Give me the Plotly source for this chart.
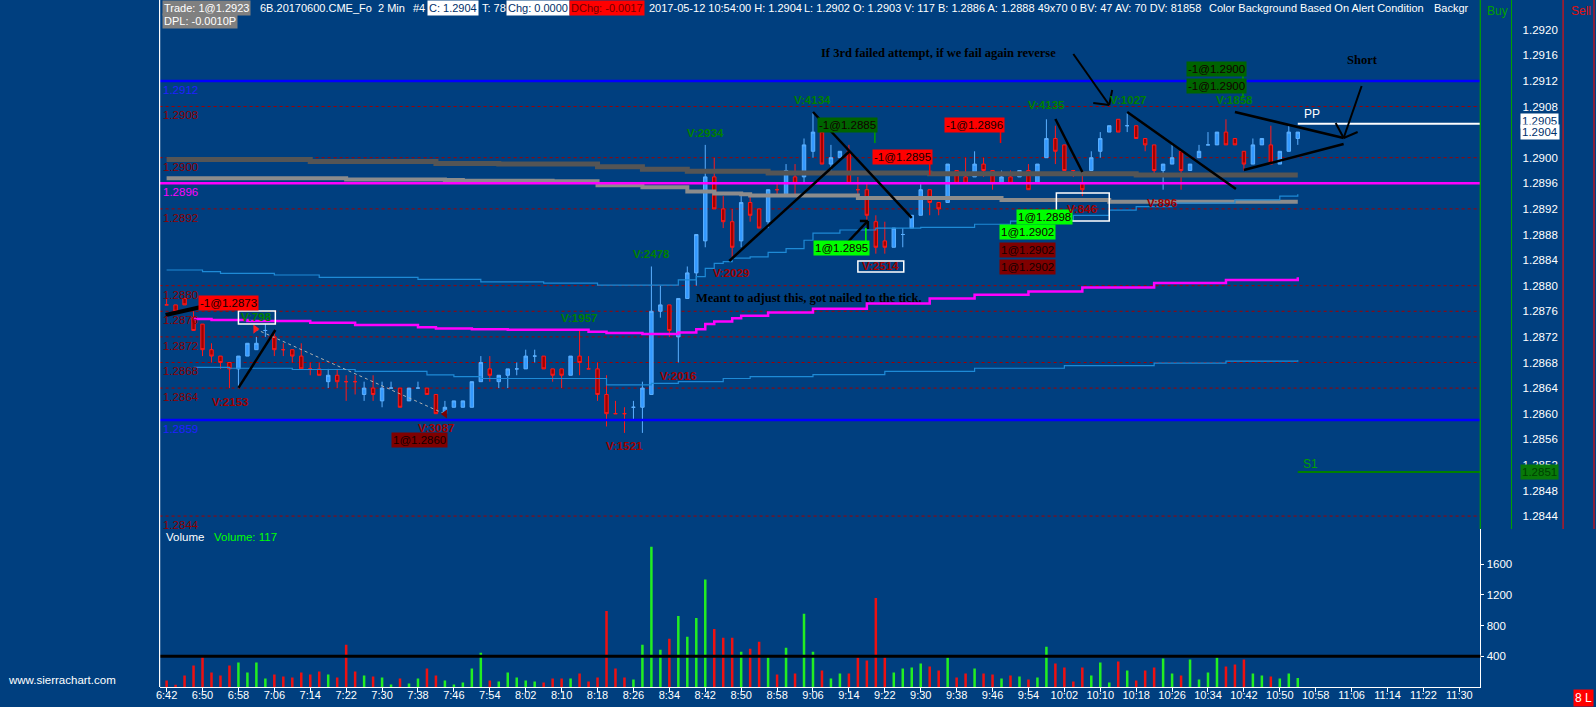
import plotly.graph_objects as go

# ---- 2 minute bars, 6B (British pound) June contract, 6:42 .. 10:54 ----
opens = [1.2877, 1.2877, 1.2878, 1.2875, 1.2874, 1.2870, 1.2869, 1.2868, 1.2867, 1.2869,
         1.2870, 1.2873, 1.2872, 1.2870, 1.2870, 1.2869, 1.2867, 1.2867, 1.2865, 1.2866,
         1.2865, 1.2865, 1.2863, 1.2864, 1.2862, 1.2864, 1.2864, 1.2862, 1.2864, 1.2864,
         1.2863, 1.2860, 1.2861, 1.2861, 1.2861, 1.2865, 1.2867, 1.2865, 1.2866, 1.2867,
         1.2867, 1.2869, 1.2869, 1.2867, 1.2867, 1.2866, 1.2869, 1.2867, 1.2867, 1.2863,
         1.2860, 1.2860, 1.2861, 1.2861, 1.2863, 1.2876, 1.2877, 1.2872, 1.2878, 1.2882,
         1.2887, 1.2897, 1.2892, 1.2890, 1.2887, 1.2893, 1.2892, 1.2890, 1.2895, 1.2894,
         1.2897, 1.2897, 1.2901, 1.2904, 1.2899, 1.2900, 1.2901, 1.2895, 1.2895, 1.2890,
         1.2887, 1.2886, 1.2888, 1.2889, 1.2891, 1.2895, 1.2893, 1.2893, 1.2898, 1.2897,
         1.2897, 1.2899, 1.2898, 1.2896, 1.2897, 1.2897, 1.2898, 1.2896, 1.2900, 1.2903,
         1.2902, 1.2898, 1.2896, 1.2898, 1.2901, 1.2904, 1.2906, 1.2905, 1.2905, 1.2903,
         1.2902, 1.2898, 1.2899, 1.2901, 1.2898, 1.2900, 1.2902, 1.2902, 1.2904, 1.2903,
         1.2901, 1.2899, 1.2902, 1.2902, 1.2899, 1.2901, 1.2903]
highs = [1.2878, 1.2877, 1.2878, 1.2876, 1.2874, 1.2871, 1.2869, 1.2868, 1.2869, 1.2871,
         1.2872, 1.2874, 1.2873, 1.2871, 1.2870, 1.2871, 1.2868, 1.2868, 1.2867, 1.2867,
         1.2866, 1.2866, 1.2865, 1.2866, 1.2865, 1.2865, 1.2864, 1.2864, 1.2865, 1.2864,
         1.2863, 1.2862, 1.2862, 1.2862, 1.2865, 1.2869, 1.2869, 1.2866, 1.2867, 1.2868,
         1.2870, 1.2870, 1.2869, 1.2867, 1.2867, 1.2869, 1.2873, 1.2869, 1.2868, 1.2866,
         1.2862, 1.2861, 1.2862, 1.2865, 1.2883, 1.2880, 1.2877, 1.2878, 1.2883, 1.2888,
         1.2902, 1.2900, 1.2894, 1.2892, 1.2894, 1.2894, 1.2892, 1.2895, 1.2896, 1.2899,
         1.2899, 1.2903, 1.2907, 1.2905, 1.2902, 1.2901, 1.2902, 1.2897, 1.2896, 1.2891,
         1.2890, 1.2889, 1.2889, 1.2891, 1.2896, 1.2895, 1.2893, 1.2899, 1.2898, 1.2900,
         1.2901, 1.2900, 1.2898, 1.2898, 1.2898, 1.2898, 1.2899, 1.2899, 1.2906, 1.2905,
         1.2902, 1.2898, 1.2898, 1.2901, 1.2904, 1.2905, 1.2906, 1.2907, 1.2905, 1.2903,
         1.2902, 1.2899, 1.2902, 1.2901, 1.2899, 1.2902, 1.2904, 1.2904, 1.2906, 1.2903,
         1.2901, 1.2903, 1.2903, 1.2905, 1.2901, 1.2905, 1.2904]
lows = [1.2877, 1.2876, 1.2877, 1.2873, 1.2869, 1.2868, 1.2867, 1.2864, 1.2864, 1.2869,
        1.2870, 1.2872, 1.2869, 1.2869, 1.2868, 1.2867, 1.2866, 1.2866, 1.2864, 1.2864,
        1.2862, 1.2863, 1.2862, 1.2862, 1.2861, 1.2864, 1.2861, 1.2862, 1.2864, 1.2863,
        1.2860, 1.2860, 1.2861, 1.2861, 1.2861, 1.2865, 1.2865, 1.2864, 1.2864, 1.2866,
        1.2867, 1.2868, 1.2867, 1.2865, 1.2864, 1.2866, 1.2866, 1.2867, 1.2862, 1.2858,
        1.2860, 1.2857, 1.2859, 1.2857, 1.2863, 1.2875, 1.2872, 1.2868, 1.2878, 1.2880,
        1.2886, 1.2892, 1.2889, 1.2884, 1.2886, 1.2890, 1.2889, 1.2889, 1.2894, 1.2894,
        1.2894, 1.2896, 1.2900, 1.2899, 1.2898, 1.2900, 1.2896, 1.2894, 1.2890, 1.2885,
        1.2885, 1.2886, 1.2886, 1.2889, 1.2891, 1.2891, 1.2891, 1.2893, 1.2896, 1.2896,
        1.2897, 1.2897, 1.2895, 1.2896, 1.2896, 1.2897, 1.2895, 1.2896, 1.2900, 1.2899,
        1.2898, 1.2897, 1.2894, 1.2898, 1.2900, 1.2904, 1.2904, 1.2904, 1.2903, 1.2901,
        1.2897, 1.2895, 1.2899, 1.2895, 1.2898, 1.2900, 1.2902, 1.2902, 1.2902, 1.2902,
        1.2898, 1.2899, 1.2902, 1.2899, 1.2899, 1.2901, 1.2902]
closes = [1.2877, 1.2876, 1.2877, 1.2873, 1.2870, 1.2869, 1.2868, 1.2867, 1.2869, 1.2871,
          1.2871, 1.2873, 1.2870, 1.2870, 1.2869, 1.2867, 1.2867, 1.2866, 1.2866, 1.2865,
          1.2865, 1.2865, 1.2864, 1.2863, 1.2864, 1.2864, 1.2861, 1.2864, 1.2864, 1.2863,
          1.2860, 1.2861, 1.2862, 1.2862, 1.2865, 1.2868, 1.2866, 1.2866, 1.2867, 1.2867,
          1.2869, 1.2869, 1.2867, 1.2866, 1.2866, 1.2869, 1.2868, 1.2867, 1.2863, 1.2860,
          1.2860, 1.2860, 1.2861, 1.2864, 1.2876, 1.2877, 1.2873, 1.2878, 1.2882, 1.2888,
          1.2897, 1.2892, 1.2890, 1.2886, 1.2893, 1.2891, 1.2889, 1.2895, 1.2895, 1.2898,
          1.2896, 1.2902, 1.2904, 1.2899, 1.2900, 1.2901, 1.2896, 1.2895, 1.2891, 1.2886,
          1.2886, 1.2889, 1.2888, 1.2891, 1.2895, 1.2893, 1.2892, 1.2899, 1.2896, 1.2896,
          1.2899, 1.2898, 1.2896, 1.2897, 1.2896, 1.2898, 1.2895, 1.2899, 1.2903, 1.2901,
          1.2898, 1.2898, 1.2895, 1.2900, 1.2903, 1.2905, 1.2904, 1.2905, 1.2903, 1.2902,
          1.2898, 1.2899, 1.2900, 1.2898, 1.2899, 1.2901, 1.2902, 1.2904, 1.2902, 1.2902,
          1.2899, 1.2902, 1.2903, 1.2899, 1.2901, 1.2904, 1.2904]
# bar colour as drawn on the chart (u = up / blue, d = down / red)
bar_dir = list("dddddddduu" "uuddddddud" "dduduuduud" "duuuuuduuu" "uudddudddd"
               "dduuuuduuu" "uddduddudu" "duuduudddd" "duuuuddudd" "uddududuud"
               "ddduuududd" "duuduuuudd" "duuduuu")
volumes = [86, 30, 150, 280, 417, 190, 150, 280, 318, 190,
           318, 112, 163, 138, 125, 190, 163, 202, 163, 125,
           550, 202, 150, 138, 125, 34, 112, 47, 112, 241,
           150, 86, 34, 60, 241, 447, 86, 73, 190, 125,
           86, 73, 60, 112, 112, 112, 176, 73, 125, 989,
           241, 125, 99, 550, 1828, 486, 628, 925, 654, 899,
           1402, 757, 641, 641, 460, 499, 589, 383, 163, 512,
           176, 955, 460, 215, 112, 176, 176, 383, 344, 1161,
           383, 190, 241, 254, 305, 267, 215, 383, 125, 176,
           241, 176, 163, 112, 150, 138, 99, 125, 525, 305,
           254, 73, 254, 150, 318, 60, 331, 215, 86, 215,
           254, 370, 176, 150, 357, 99, 190, 383, 267, 292,
           357, 176, 150, 138, 112, 176, 117]
bars = list(range(len(closes)))

time_labels = ["6:42", "6:50", "6:58", "7:06", "7:14", "7:22", "7:30", "7:38", "7:46", "7:54",
               "8:02", "8:10", "8:18", "8:26", "8:34", "8:42", "8:50", "8:58", "9:06", "9:14",
               "9:22", "9:30", "9:38", "9:46", "9:54", "10:02", "10:10", "10:18", "10:26", "10:34",
               "10:42", "10:50", "10:58", "11:06", "11:14", "11:22", "11:30"]
time_ticks = [4 * i for i in range(len(time_labels))]
price_ticks = [1.2844, 1.2848, 1.2852, 1.2856, 1.2860, 1.2864, 1.2868, 1.2872, 1.2876, 1.2880,
               1.2884, 1.2888, 1.2892, 1.2896, 1.2900, 1.2904, 1.2908, 1.2912, 1.2916, 1.2920]
volume_ticks = [400, 800, 1200, 1600]

# ---- study lines (step values, bar index -> price) ----
avg_dark_x = [0, 16, 30, 37, 48, 53, 58, 67, 85, 108, 126]
avg_dark_y = [1.28997, 1.28994, 1.28991, 1.28990, 1.28986, 1.28982, 1.28979, 1.28976,
              1.28975, 1.28973, 1.28973]
avg_light_x = [0, 20, 31, 33, 43, 48, 53, 58, 61, 64, 65, 77, 93, 105, 126]
avg_light_y = [1.28968, 1.28966, 1.28965, 1.28964, 1.28963, 1.28957, 1.28954, 1.28947,
               1.28944, 1.28943, 1.28941, 1.28937, 1.28934, 1.28931, 1.28931]
band_up_x = [0, 4, 6, 12, 17, 28, 35, 42, 48, 57, 59, 60, 61, 62, 63, 65, 67, 69, 71, 72,
             75, 79, 84, 90, 94, 97, 101, 105, 108, 112, 119, 124, 126]
band_up_y = [1.288245, 1.28822, 1.288193, 1.288167, 1.28813, 1.288099, 1.28806, 1.28804,
             1.28801, 1.28809, 1.28814, 1.28827, 1.28835, 1.288375, 1.28843, 1.28845,
             1.28852, 1.28858, 1.28871, 1.28882, 1.28887, 1.28890, 1.28891, 1.28896,
             1.28901, 1.28903, 1.28910, 1.28918, 1.289235, 1.28929, 1.28934, 1.28940, 1.28943]
band_lo_x = [3, 7, 14, 21, 29, 32, 35, 49, 54, 57, 62, 65, 72, 80, 90, 100, 110, 118, 126]
band_lo_y = [1.286724, 1.28671, 1.28669, 1.28666, 1.286605, 1.28658, 1.28655, 1.28645,
             1.286475, 1.28650, 1.28655, 1.28658, 1.28661, 1.28666, 1.28671, 1.28675,
             1.28679, 1.28682, 1.286835]
vwap_x = [3, 5, 9, 16, 21, 28, 30, 34, 38, 47, 49, 53, 57, 59, 60, 61, 63, 64, 67, 72,
          78, 85, 90, 96, 102, 110, 118, 126]
vwap_y = [1.28748, 1.287464, 1.28745, 1.28742, 1.287385, 1.28735, 1.28733, 1.28732,
          1.28731, 1.28728, 1.28726, 1.287245, 1.28727, 1.28732, 1.28740, 1.28744,
          1.28749, 1.28753, 1.28758, 1.28764, 1.28772, 1.28780, 1.28786, 1.28791,
          1.28797, 1.28804, 1.28809, 1.28813]

dotted_levels = [1.2908, 1.2900, 1.2892, 1.2880, 1.2876, 1.2872, 1.2868, 1.2864, 1.2844]
blue_levels = [1.2912, 1.2859]
magenta_level = 1.2896
pp_level = 1.29053
s1_level = 1.28509

W, H = 1596, 707
BG = '#003f7f'
FONT = 'Liberation Sans'
X_RANGE = [-0.78, 146.33]


def px(x):
    return x / W


def py(y):
    return 1 - y / H


fig = go.Figure()

# candles, drawn as two traces so doji colours follow the chart
for d, fill, edge in [('u', '#3399ff', '#5cb0ff'), ('d', '#a00000', '#ff1a1a')]:
    idx = [i for i in bars if bar_dir[i] == d]
    fig.add_trace(go.Candlestick(
        x=idx, open=[opens[i] for i in idx], high=[highs[i] for i in idx],
        low=[lows[i] for i in idx], close=[closes[i] for i in idx],
        increasing=dict(fillcolor=fill, line=dict(color=edge, width=1)),
        decreasing=dict(fillcolor=fill, line=dict(color=edge, width=1)),
        whiskerwidth=0, xaxis='x', yaxis='y', hoverinfo='skip'))

studies = [(avg_dark_x, avg_dark_y, '#555555', 5), (avg_light_x, avg_light_y, '#8c8c8c', 4),
           (band_up_x, band_up_y, '#1e8ad6', 1.2), (band_lo_x, band_lo_y, '#1e8ad6', 1.2),
           (vwap_x, vwap_y, '#ff00ff', 2.5)]
for sx, sy, col, w in studies:
    fig.add_trace(go.Scatter(x=sx, y=sy, mode='lines', line=dict(color=col, width=w, shape='hv'),
                             xaxis='x', yaxis='y', hoverinfo='skip'))

# short trade from 1.2873 to 1.2860 exit
fig.add_trace(go.Scatter(x=[9.89, 31.0], y=[1.287323, 1.285995], mode='lines+markers',
                         line=dict(color='#b0b0b0', width=1, dash='dot'),
                         marker=dict(symbol=['triangle-right', 'triangle-left'], size=8,
                                     color=['#ff2020', '#800000']),
                         xaxis='x', yaxis='y', hoverinfo='skip'))

fig.add_trace(go.Bar(x=bars, y=volumes, width=0.28,
                     marker=dict(color=['#22ee22' if d == 'u' else '#ee1111' for d in bar_dir],
                                 line=dict(width=0)),
                     xaxis='x2', yaxis='y2', hoverinfo='skip'))

shapes = []
for p in dotted_levels:
    shapes.append(dict(type='line', xref='x domain', yref='y', x0=0, x1=1, y0=p, y1=p,
                       line=dict(color='#a00000', width=1, dash='dot'), layer='below'))
for p in blue_levels:
    shapes.append(dict(type='line', xref='x domain', yref='y', x0=0, x1=1, y0=p, y1=p,
                       line=dict(color='#0000ff', width=2.5)))
shapes.append(dict(type='line', xref='x domain', yref='y', x0=0, x1=1, y0=magenta_level,
                   y1=magenta_level, line=dict(color='#ff00ff', width=2.5)))
shapes.append(dict(type='line', xref='x', yref='y', x0=126, x1=X_RANGE[1], y0=pp_level,
                   y1=pp_level, line=dict(color='white', width=2)))
shapes.append(dict(type='line', xref='x', yref='y', x0=126, x1=X_RANGE[1], y0=s1_level,
                   y1=s1_level, line=dict(color='#008000', width=2)))
shapes.append(dict(type='line', xref='x2 domain', yref='y2', x0=0, x1=1, y0=400, y1=400,
                   line=dict(color='black', width=3)))

# hand drawn lines on the chart (bar index, price)
drawings = [((-0.11, 1.287542), (4.33, 1.287683), 4),
            ((8.0, 1.286402), (12.11, 1.287308), 2.5),
            ((62.67, 1.288386), (76.11, 1.290105), 2.5),
            ((72.0, 1.290714), (83.0, 1.289058), 2.5),
            ((75.78, 1.288667), (78.11, 1.289011), 2.5),
            ((78.11, 1.289011), (77.22, 1.289011), 2.5),
            ((78.11, 1.289011), (78.11, 1.288886), 2.5),
            ((99.0, 1.290605), (102.0, 1.289777), 2.5),
            ((101.0, 1.291620), (105.0, 1.290823), 2),
            ((105.0, 1.290823), (103.22, 1.290855), 2),
            ((105.0, 1.290823), (105.33, 1.291058), 2),
            ((107.0, 1.290714), (119.11, 1.289511), 2.5),
            ((119.0, 1.290714), (131.11, 1.290308), 2.5),
            ((120.0, 1.289808), (131.11, 1.290214), 2.5),
            ((133.11, 1.291120), (131.11, 1.290308), 2),
            ((131.11, 1.290308), (130.22, 1.290542), 2),
            ((131.11, 1.290308), (132.67, 1.290402), 2)]
for (x0, y0), (x1, y1), w in drawings:
    shapes.append(dict(type='line', xref='x', yref='y', x0=x0, y0=y0, x1=x1, y1=y1,
                       line=dict(color='black', width=w)))

# order tails
tails = [(78.89, 1.290417, 1.290230, '#00a000'), (85.0, 1.289917, 1.289730, '#ff0000'),
         (92.89, 1.290417, 1.290230, '#ff0000'), (77.89, 1.288902, 1.288683, '#00ff00'),
         (119.89, 1.291292, 1.290933, '#00a000')]
for tx, t0, t1, col in tails:
    shapes.append(dict(type='line', xref='x', yref='y', x0=tx, x1=tx, y0=t0, y1=t1,
                       line=dict(color=col, width=1.5)))

# white boxes round swing labels
for x0, x1, y0, y1 in [(8.0, 12.11, 1.287402, 1.287605), (77.0, 82.11, 1.288214, 1.288386),
                       (99.11, 105.0, 1.289011, 1.289448)]:
    shapes.append(dict(type='rect', xref='x', yref='y', x0=x0, x1=x1, y0=y0, y1=y1,
                       line=dict(color='white', width=1.5)))

# frame lines
for x, y0, y1, col in [(156, 0, 687, 'white'), (1480, 0, 529, '#00a000'),
                       (1563, 0, 529, '#e01010'), (1594, 0, 529, '#e01010')]:
    shapes.append(dict(type='line', xref='paper', yref='paper', x0=px(x), x1=px(x),
                       y0=py(y0), y1=py(y1), line=dict(color=col, width=1.2)))

ann = []


def text(t, x, y, color='white', size=11.5, xref='x', yref='y', xanchor='center',
         bg=None, bold=False, family=FONT, yanchor='middle', yshift=0):
    a = dict(text='<b>%s</b>' % t if bold else t, x=x, y=y, xref=xref, yref=yref,
             xanchor=xanchor, yanchor=yanchor, showarrow=False, yshift=yshift,
             font=dict(color=color, size=size, family=family), borderpad=1)
    if bg:
        a['bgcolor'] = bg
    ann.append(a)


# header line
header = [("Trade: 1@1.2923", 158, '#808080', 'white'),
          ("6B.20170600.CME_Fo&nbsp;&nbsp;2 Min", 255, None, 'white'),
          ("#4", 408, None, 'white'),
          ("C: 1.2904", 424, 'white', '#00306a'),
          ("T: 78", 477, None, 'white'),
          ("Chg: 0.0000", 503, 'white', '#00306a'),
          ("DChg: -0.0017", 566, '#ff0000', '#700000'),
          ("2017-05-12 10:54:00 H: 1.2904", 645, None, 'white'),
          ("L: 1.2902 O: 1.2903 V: 117 B: 1.2886 A: 1.2888 49x70 0 BV: 47 AV: 70 DV: 81858",
           800, None, 'white'),
          ("Color Background Based On Alert Condition", 1206, None, 'white'),
          ("Backgr", 1432, None, 'white')]
for t, x, bg, col in header:
    text(t, px(x), py(8), color=col, xref='paper', yref='paper', xanchor='left', bg=bg, size=11)
text("DPL: -0.0010P", px(158), py(21), xref='paper', yref='paper', xanchor='left',
     bg='#808080', size=11)

# level labels at the left edge
level_labels = [(1.2912, '#2020ff'), (1.2908, '#8b0000'), (1.2900, '#8b0000'),
                (1.2896, '#ff00ff'), (1.2892, '#8b0000'), (1.2880, '#8b0000'),
                (1.2876, '#8b0000'), (1.2872, '#8b0000'), (1.2868, '#8b0000'),
                (1.2864, '#8b0000'), (1.2859, '#2020ff'), (1.2844, '#8b0000')]
for p, col in level_labels:
    text('%.4f' % p, px(157), p, color=col, xref='paper', xanchor='left', yanchor='top',
         size=11.5, yshift=-1)

# order fills
box_style = {'sell': '#ff0000', 'buy': '#00ff00', 'fill': '#006400', 'exit': '#800000'}
trade_labels = [('-1@1.2873', 6.94, 1.287737, 'sell'), ('1@1.2860', 28.17, 1.285581, 'exit'),
                ('-1@1.2885', 75.89, 1.290511, 'fill'), ('-1@1.2895', 81.94, 1.290011, 'sell'),
                ('-1@1.2896', 90.0, 1.290511, 'sell'), ('1@1.2895', 75.17, 1.288589, 'buy'),
                ('1@1.2898', 97.83, 1.289081, 'buy'), ('1@1.2902', 95.89, 1.288839, 'buy'),
                ('1@1.2902', 95.89, 1.288558, 'exit'), ('1@1.2902', 95.89, 1.288285, 'exit'),
                ('-1@1.2900', 116.9, 1.291386, 'fill'), ('-1@1.2900', 116.9, 1.291113, 'fill')]
for t, x, y, k in trade_labels:
    text(t, x, y, color='#120000', bg=box_style[k], size=11.5)

# swing volume labels
swing_labels = [('V:798', 10.06, 1.287503, 'hi'), ('V:2153', 7.06, 1.286183, 'lo'),
                ('V:3087', 30.06, 1.285777, 'lo'), ('V:1957', 45.94, 1.287495, 'hi'),
                ('V:2478', 54.0, 1.288495, 'hi'), ('V:1521', 51.0, 1.285495, 'lo'),
                ('V:2016', 56.94, 1.286589, 'lo'), ('V:2934', 60.06, 1.290386, 'hi'),
                ('V:2029', 62.89, 1.288198, 'lo'), ('V:4134', 72.0, 1.290902, 'hi'),
                ('V:2514', 79.56, 1.288300, 'lo'), ('V:846', 102.0, 1.289198, 'lo'),
                ('V:896', 110.9, 1.289292, 'lo'), ('V:4135', 98.0, 1.290823, 'hi'),
                ('V:1027', 107.1, 1.290902, 'hi'), ('V:1858', 119.0, 1.290902, 'hi')]
for t, x, y, k in swing_labels:
    text(t, x, y, color='#008000' if k == 'hi' else '#a00000', bold=True, size=11.5)

text("Meant to adjust this, got nailed to the tick.", 58.78, 1.287808, color='black',
     xanchor='left', bold=True, family='Liberation Serif', size=12.5)
text("If 3rd failed attempt, if we fail again reverse", 72.67, 1.291636, color='black',
     xanchor='left', bold=True, family='Liberation Serif', size=12.5)
text("Short", 133.22, 1.291527, color='black', bold=True, family='Liberation Serif', size=12.5)
text("PP", 127.6, 1.290683, color='white', size=12)
text("S1", 127.4, 1.285214, color='#00a000', size=12)

# right side boxes
text("1.2905", px(1520), 1.290573, color='#00306a', bg='white', xref='paper', xanchor='left',
     size=11.5)
text("1.2904", px(1520), 1.2904, color='#00306a', bg='white', xref='paper', xanchor='left',
     size=11.5)
text("1.2851", px(1520), 1.285089, color='#004000', bg='#087808', xref='paper', xanchor='left',
     size=11.5)
text("Buy", px(1485), py(11), color='#00a000', xref='paper', yref='paper', xanchor='left', size=12)
text("Sell", px(1569), py(11), color='#e01010', xref='paper', yref='paper', xanchor='left', size=12)
text("8 L", px(1583), py(698), color='white', xref='paper', yref='paper', bg='#ff0000', size=12)
text("www.sierrachart.com", px(2), py(680), xref='paper', yref='paper', xanchor='left', size=11.5)
text("Volume", px(160), py(537), xref='paper', yref='paper', xanchor='left', size=11.5)
text("Volume: 117", px(209), py(537), color='#00ff00', xref='paper', yref='paper',
     xanchor='left', size=11.5)

fig.update_layout(
    width=W, height=H, autosize=False, margin=dict(l=0, r=0, t=0, b=0, pad=0),
    paper_bgcolor=BG, plot_bgcolor=BG, showlegend=False, boxgap=0.45, hovermode=False,
    font=dict(family=FONT, size=11.5, color='white'),
    xaxis=dict(domain=[px(156), px(1480)], range=X_RANGE, visible=False, anchor='y',
               rangeslider=dict(visible=False)),
    yaxis=dict(domain=[py(529), 1], range=[1.284198, 1.292464], anchor='free',
               position=px(1511), side='right', tickvals=price_ticks,
               ticktext=['%.4f' % p for p in price_ticks], showgrid=False, zeroline=False,
               showline=True, linecolor='#00a000', linewidth=1.2, ticks='',
               ticklabelstandoff=8, tickfont=dict(color='white', size=11.5)),
    xaxis2=dict(domain=[px(156), px(1480)], range=X_RANGE, anchor='y2', tickvals=time_ticks,
                ticktext=time_labels, ticks='outside', ticklen=4, tickcolor='white',
                showline=True, linecolor='white', linewidth=1.2, showgrid=False,
                zeroline=False, ticklabelstandoff=-6, tickfont=dict(color='white', size=11)),
    yaxis2=dict(domain=[py(687), py(529)], range=[0, 2059], anchor='x2', side='right',
                tickvals=volume_ticks, ticks='outside', ticklen=3, tickcolor='white',
                showline=True, linecolor='white', linewidth=1.2, showgrid=False,
                zeroline=False, tickfont=dict(color='white', size=11.5)),
    shapes=shapes, annotations=ann)

# drop the default page margin so the chart sits flush in the window, no toolbar
fig.write_html("out.html", config={'displayModeBar': False},
               post_script="document.body.style.margin='0';document.body.style.overflow='hidden';")
